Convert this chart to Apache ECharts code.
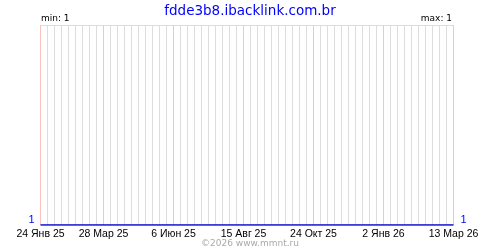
<!DOCTYPE html>
<html><head><meta charset="utf-8">
<script src="https://cdn.jsdelivr.net/npm/echarts@6/dist/echarts.min.js"></script>
<style>html,body{margin:0;padding:0;background:#fff}#c{width:500px;height:250px}</style>
</head><body><div id="c"></div>
<script>
const titleText = 'fdde3b8.ibacklink.com.br';
const startDate = '2025-01-24';
const endDate = '2026-03-13';
const tickDates = ['2025-01-24','2025-03-28','2025-06-06','2025-08-15','2025-10-24','2026-01-02','2026-03-13'];
const tickLabels = ['24 Янв 25','28 Мар 25','6 Июн 25','15 Авг 25','24 Окт 25','2 Янв 26','13 Мар 26'];
const seriesDates = ['2025-01-24','2026-03-13'];
const seriesValues = [1, 1];
const minText = 'min: 1';
const maxText = 'max: 1';
const footerText = '©2026 www.mmnt.ru';

const DAY = 86400000;
const t0 = Date.parse(startDate + 'T00:00:00Z');
const dayOf = s => Math.round((Date.parse(s + 'T00:00:00Z') - t0) / DAY);
const tickDays = tickDates.map(dayOf);
const maxDay = dayOf(endDate);
const labelMap = {};
tickDays.forEach((d, i) => labelMap[d] = tickLabels[i]);

const font = 'DejaVu Sans';
const lfont = 'Liberation Sans';
const pink = '#ffc0c0';

const pinkSeries = tickDays.map(d => ({
  type: 'line', yAxisIndex: 0, silent: true, z: 3,
  data: [[d, 1], [d, 2]],
  symbol: 'none', color: pink,
  lineStyle: {color: pink, width: 1},
  emphasis: {disabled: true}
}));

const chart = echarts.init(document.getElementById('c'), null, {renderer: 'canvas'});
chart.setOption({
  animation: false,
  backgroundColor: '#fff',
  tooltip: {show: false},
  title: [
    {text: titleText, left: 'center', top: -1, textStyle: {color: '#0000ff', fontFamily: font, fontSize: 13.5, fontWeight: 'normal'}},
    {text: minText, left: 36, top: 9, textStyle: {color: '#000', fontFamily: font, fontSize: 9, fontWeight: 'normal'}},
    {text: maxText, right: 43, top: 9, textStyle: {color: '#000', fontFamily: font, fontSize: 9, fontWeight: 'normal'}},
    {text: footerText, left: 'center', top: 234, textStyle: {color: '#aaaaaa', fontFamily: font, fontSize: 9, fontWeight: 'normal'}}
  ],
  grid: {left: 40.5, right: 46.5, top: 25, bottom: 25, containLabel: false},
  xAxis: {
    type: 'value', min: 0, max: maxDay, interval: 7,
    axisLine: {show: false}, axisTick: {show: false},
    axisLabel: {
      show: true, margin: 4, color: '#000', fontFamily: lfont, fontSize: 10.5,
      formatter: v => labelMap[v] !== undefined ? labelMap[v] : '',
      showMinLabel: true, showMaxLabel: true, hideOverlap: false
    },
    splitLine: {show: true, lineStyle: {color: '#dddddd', width: 1}}
  },
  yAxis: [
    {type: 'value', min: 1, max: 2, interval: 1, position: 'left',
     axisLine: {show: false}, axisTick: {show: false},
     axisLabel: {color: '#0000ff', fontFamily: lfont, fontSize: 11, margin: 6, verticalAlign: 'bottom', formatter: v => v === 1 ? '1' : ''},
     splitLine: {show: true, lineStyle: {color: '#dddddd', width: 1}}},
    {type: 'value', min: 1, max: 2, interval: 1, position: 'right',
     axisLine: {show: false}, axisTick: {show: false},
     axisLabel: {color: '#0000ff', fontFamily: lfont, fontSize: 11, margin: 7, verticalAlign: 'bottom', formatter: v => v === 1 ? '1' : ''},
     splitLine: {show: false}}
  ],
  series: pinkSeries.concat([{
    type: 'line', yAxisIndex: 0,
    data: seriesDates.map((d, i) => [dayOf(d), seriesValues[i]]),
    symbol: 'none', color: '#0000cc', lineStyle: {color: '#0000cc', width: 1.5}, z: 5
  }])
});
</script></body></html>
